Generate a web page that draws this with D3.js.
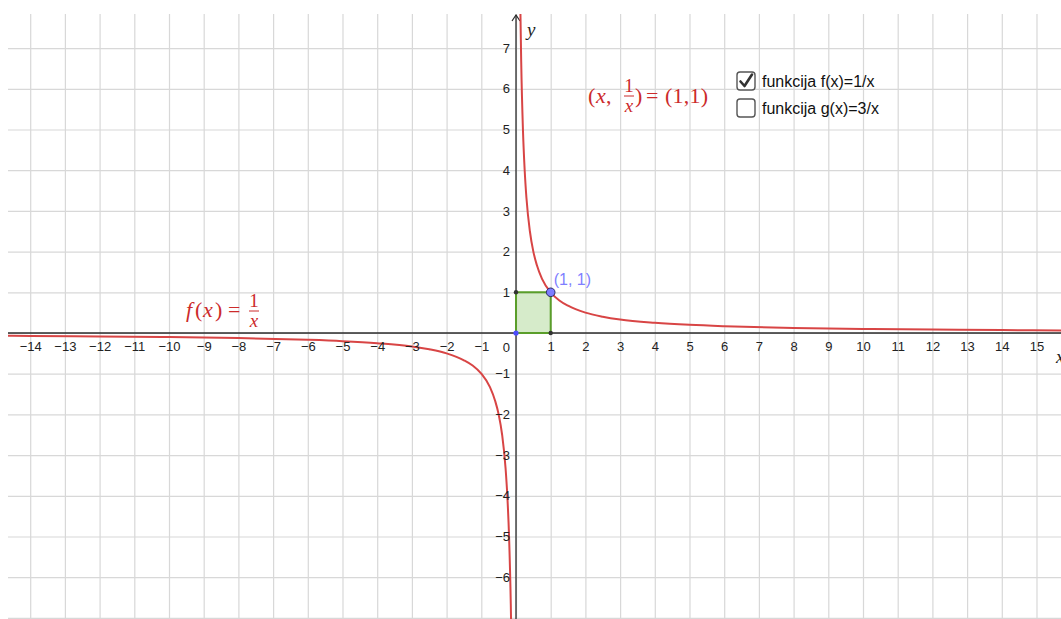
<!DOCTYPE html>
<html>
<head>
<meta charset="utf-8">
<script src="https://cdn.jsdelivr.net/npm/d3@7"></script>
<style>
  body { margin: 0; background: #fff; }
  svg { display: block; }
  .grid line { stroke: #d8d8d8; stroke-width: 1.2; }
  .grid path { display: none; }
  .tick text { font-family: "Liberation Sans", Arial, sans-serif; font-size: 13px; fill: #222; }
  .math { font-family: "Liberation Serif", "DejaVu Serif", serif; fill: #cc2b2b; }
</style>
</head>
<body>
<script>
// tick labels on the axes
const xTicks = [-14,-13,-12,-11,-10,-9,-8,-7,-6,-5,-4,-3,-2,-1,1,2,3,4,5,6,7,8,9,10,11,12,13,14,15];
const yTicks = [-6,-5,-4,-3,-2,-1,1,2,3,4,5,6,7];
const gridX = d3.range(-14, 16);
const gridY = d3.range(-7, 8);

const rightX = [0.125, 0.15, 0.2, 0.25, 0.3, 0.4, 0.5, 0.6, 0.75, 1, 1.25, 1.5, 2, 2.5, 3, 4, 5, 6, 8, 10, 12, 14, 16];
const rightY = [8, 6.67, 5, 4, 3.33, 2.5, 2, 1.67, 1.33, 1, 0.8, 0.67, 0.5, 0.4, 0.33, 0.25, 0.2, 0.167, 0.125, 0.1, 0.083, 0.071, 0.0625];
const leftX = [-15, -14, -12, -10, -8, -6, -5, -4, -3, -2.5, -2, -1.5, -1.25, -1, -0.75, -0.6, -0.5, -0.4, -0.3, -0.25, -0.2, -0.15, -0.13];
const leftY = [-0.067, -0.071, -0.083, -0.1, -0.125, -0.167, -0.2, -0.25, -0.33, -0.4, -0.5, -0.67, -0.8, -1, -1.33, -1.67, -2, -2.5, -3.33, -4, -5, -6.67, -7.7];

// the unit square and its corners
const squareX = [0, 1, 1, 0];
const squareY = [0, 0, 1, 1];
const point = {x: 1, y: 1, label: "(1, 1)"};

const checkboxes = [
  {label: "funkcija f(x)=1/x", checked: true},
  {label: "funkcija g(x)=3/x", checked: false}
];

const W = 1061, H = 619;
const view = {left: 8, top: 14, right: 1061, bottom: 619};
const ox = 516, oy = 333, ux = 34.7, uy = 40.7;

const x = d3.scaleLinear()
  .domain([(view.left - ox) / ux, (view.right - ox) / ux])
  .range([view.left, view.right]);
const y = d3.scaleLinear()
  .domain([(oy - view.bottom) / uy, (oy - view.top) / uy])
  .range([view.bottom, view.top]);

const svg = d3.select("body").append("svg").attr("width", W).attr("height", H);

svg.append("clipPath").attr("id", "clip")
  .append("rect")
  .attr("x", view.left).attr("y", view.top)
  .attr("width", view.right - view.left).attr("height", view.bottom - view.top);

const plot = svg.append("g").attr("clip-path", "url(#clip)");

// grid
plot.append("g").attr("class", "grid")
  .attr("transform", `translate(0,${view.bottom})`)
  .call(d3.axisBottom(x).tickValues(gridX).tickSize(-(view.bottom - view.top)).tickFormat(""));
plot.append("g").attr("class", "grid")
  .attr("transform", `translate(${view.left},0)`)
  .call(d3.axisLeft(y).tickValues(gridY).tickSize(-(view.right - view.left)).tickFormat(""));

// axes lines
const axisColor = "#2b2b2b";
plot.append("line")
  .attr("x1", view.left).attr("x2", view.right)
  .attr("y1", y(0)).attr("y2", y(0))
  .attr("stroke", axisColor).attr("stroke-width", 1.3);
plot.append("line")
  .attr("x1", x(0)).attr("x2", x(0))
  .attr("y1", view.top + 1).attr("y2", view.bottom)
  .attr("stroke", axisColor).attr("stroke-width", 1.3);
// y arrow
plot.append("path")
  .attr("d", `M${x(0) - 4},${view.top + 7} L${x(0)},${view.top + 1} L${x(0) + 4},${view.top + 7}`)
  .attr("fill", "none").attr("stroke", axisColor).attr("stroke-width", 1.2);

const fmt = d => d < 0 ? "\u2212" + Math.abs(d) : String(d);

// x tick labels
const xAxis = svg.append("g")
  .attr("transform", `translate(0,${y(0)})`)
  .call(d3.axisBottom(x).tickValues(xTicks).tickSize(0).tickPadding(9).tickFormat(fmt));
xAxis.select(".domain").remove();

// y tick labels
const yAxis = svg.append("g")
  .attr("transform", `translate(${x(0)},0)`)
  .call(d3.axisLeft(y).tickValues(yTicks).tickSize(0).tickPadding(6).tickFormat(fmt));
yAxis.select(".domain").remove();

// origin label
svg.append("text")
  .attr("x", x(0) - 6).attr("y", y(0) + 19)
  .attr("text-anchor", "end")
  .style("font-family", "Liberation Sans, Arial, sans-serif").style("font-size", "13px").attr("fill", "#222")
  .text("0");

// axis names
svg.append("text")
  .attr("x", x(0) + 11).attr("y", view.top + 22)
  .style("font-family", "Liberation Serif, serif").style("font-style", "italic").style("font-size", "19px")
  .attr("fill", "#222").text("y");
svg.append("text")
  .attr("x", 1056).attr("y", y(0) + 30)
  .style("font-family", "Liberation Serif, serif").style("font-style", "italic").style("font-size", "19px")
  .attr("fill", "#222").text("x");

// unit square
const sq = squareX.map((d, i) => [x(d), y(squareY[i])]);
plot.append("path")
  .attr("d", "M" + sq.join("L") + "Z")
  .attr("fill", "rgba(120, 190, 80, 0.3)")
  .attr("stroke", "#5a9e2a").attr("stroke-width", 2);

// curve
const line = d3.line().x(d => x(d[0])).y(d => y(d[1])).curve(d3.curveMonotoneX);
const curveColor = "#d84545";
plot.append("path")
  .attr("d", line(rightX.map((d, i) => [d, rightY[i]])))
  .attr("fill", "none").attr("stroke", curveColor).attr("stroke-width", 2);
plot.append("path")
  .attr("d", line(leftX.map((d, i) => [d, leftY[i]])))
  .attr("fill", "none").attr("stroke", curveColor).attr("stroke-width", 2);

// square corners
const corners = [
  {x: 0, y: 0, fill: "#4d4dff", r: 2.6},
  {x: 1, y: 0, fill: "#333", r: 2.2},
  {x: 0, y: 1, fill: "#333", r: 2.2}
];
plot.selectAll(".corner").data(corners).join("circle")
  .attr("class", "corner")
  .attr("cx", d => x(d.x)).attr("cy", d => y(d.y)).attr("r", d => d.r)
  .attr("fill", d => d.fill);

// point (1,1)
plot.append("circle")
  .attr("cx", x(point.x)).attr("cy", y(point.y)).attr("r", 4.3)
  .attr("fill", "#7d7dff").attr("stroke", "#2a2a66").attr("stroke-width", 1);
svg.append("text")
  .attr("x", x(point.x) + 3).attr("y", y(point.y) - 7)
  .style("font-family", "Liberation Sans, Arial, sans-serif").style("font-size", "16px")
  .attr("fill", "#7f7fff").text(point.label);

// math labels drawn as text pieces
function fraction(g, cx, lineY, num, den) {
  g.append("text").attr("class", "math").attr("x", cx).attr("y", lineY - 4)
    .attr("text-anchor", "middle").style("font-size", "19px").text(num);
  g.append("line").attr("x1", cx - 5).attr("x2", cx + 5).attr("y1", lineY).attr("y2", lineY)
    .attr("stroke", "#cc2b2b").attr("stroke-width", 1);
  g.append("text").attr("class", "math").attr("x", cx).attr("y", lineY + 16)
    .attr("text-anchor", "middle").style("font-size", "19px").style("font-style", "italic").text(den);
}
function piece(g, px, py, str, italic, len) {
  const t = g.append("text").attr("class", "math").attr("x", px).attr("y", py)
    .style("font-size", "22px").style("font-style", italic ? "italic" : "normal").text(str);
  if (len) t.attr("textLength", len).attr("lengthAdjust", "spacing");
  return t;
}

const m1 = svg.append("g");
piece(m1, 186, 317, "f", true);
piece(m1, 195, 317, "(", false);
piece(m1, 203, 317, "x", true);
piece(m1, 215, 317, ")", false);
piece(m1, 228, 317, "=", false);
fraction(m1, 254, 311, "1", "x");

const m2 = svg.append("g");
piece(m2, 588, 103, "(", false);
piece(m2, 596, 103, "x", true);
piece(m2, 606, 103, ",", false);
fraction(m2, 629, 96, "1", "x");
piece(m2, 635, 103, ")", false);
piece(m2, 646, 103, "=", false);
piece(m2, 665, 103, "(1,1)", false, 43);

// checkboxes
const cb = svg.selectAll(".cb").data(checkboxes).join("g")
  .attr("class", "cb")
  .attr("transform", (d, i) => `translate(737,${72 + i * 27})`);
cb.append("rect")
  .attr("width", 18).attr("height", 18).attr("rx", 3)
  .attr("fill", "#fff").attr("stroke", "#555").attr("stroke-width", 1.4);
cb.filter(d => d.checked).append("path")
  .attr("d", "M3.5,9.5 L7.5,14 L15,2.5")
  .attr("fill", "none").attr("stroke", "#333").attr("stroke-width", 2.6)
  .attr("stroke-linecap", "round").attr("stroke-linejoin", "round");
cb.append("text")
  .attr("x", 25).attr("y", 15)
  .style("font-family", "Liberation Sans, Arial, sans-serif").style("font-size", "16px")
  .attr("fill", "#111").text(d => d.label);
</script>
</body>
</html>
